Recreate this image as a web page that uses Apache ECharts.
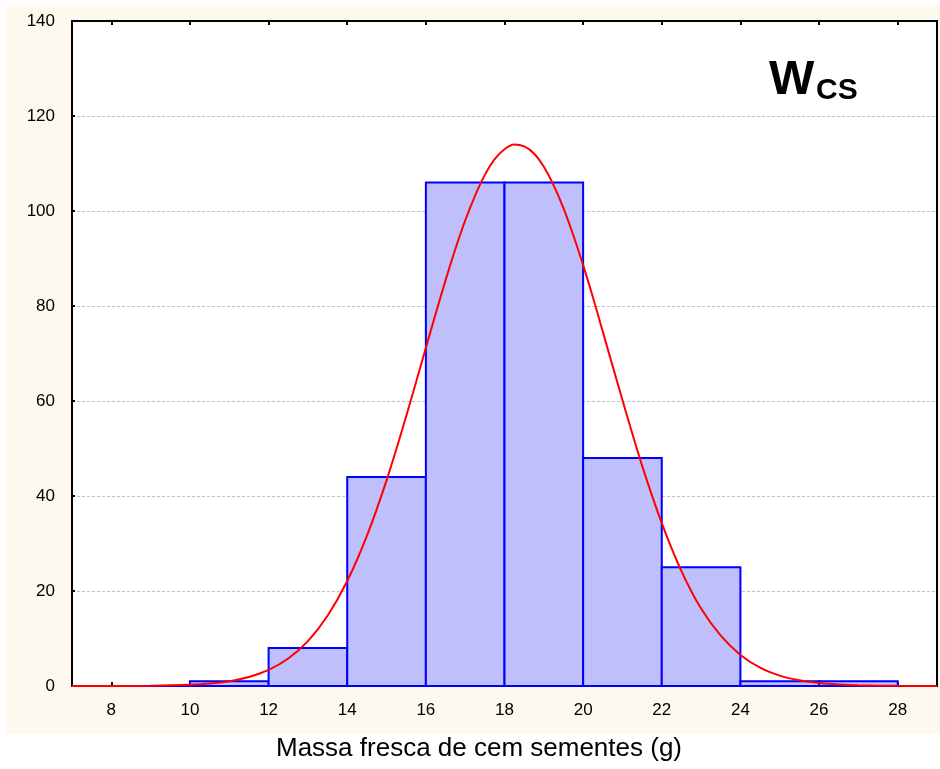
<!DOCTYPE html>
<html>
<head>
<meta charset="utf-8">
<script src="https://cdn.jsdelivr.net/npm/echarts@6/dist/echarts.min.js"></script>
<style>
  html, body { margin: 0; padding: 0; background: #ffffff; }
  #chart { width: 940px; height: 769px; }
</style>
</head>
<body>
<div id="chart"></div>
<script>
// Histogram class limits (g) and counts per class
const binStarts = [8, 10, 12, 14, 16, 18, 20, 22, 24, 26];
const binWidth = 2;
const counts = [0, 1, 8, 44, 106, 106, 48, 25, 1, 1];

// Fitted normal curve, expected counts per class
const curveX = [7, 8, 9, 10, 10.5, 11, 11.5, 12, 12.5, 13, 13.5, 14, 14.5, 15, 15.5, 16, 16.25, 16.5, 16.75, 17, 17.25, 17.5, 17.75, 18,
                18.25, 18.5, 18.75, 19, 19.25, 19.5, 19.75, 20, 20.25, 20.5, 21, 21.5, 22, 22.5, 23, 23.5, 24, 24.5, 25, 25.5, 26, 26.5, 27, 28, 29];
const curveY = [0.00, 0.01, 0.05, 0.26, 0.52, 1.02, 1.90, 3.39, 5.79, 9.46, 14.8, 22.1, 31.6, 43.3, 56.8, 71.2, 78.4, 85.4, 92.0, 98.0, 103.2, 107.6, 110.9, 113.0,
                114.0, 113.6, 112.1, 109.3, 105.4, 100.6, 94.9, 88.6, 81.8, 74.6, 60.2, 46.4, 34.3, 24.2, 16.3, 10.6, 6.54, 3.87, 2.19, 1.19, 0.62, 0.31, 0.15, 0.03, 0.00];

// Axis tick labels
const xTicks = [8, 10, 12, 14, 16, 18, 20, 22, 24, 26, 28];

const xAxisTitle = 'Massa fresca de cem sementes (g)';

const binData = binStarts.map((s, i) => [s, s + binWidth, counts[i]]);
const curveData = curveX.map((x, i) => [x, curveY[i]]);

const chart = echarts.init(document.getElementById('chart'), null, { renderer: 'canvas' });

const FONT = '"Liberation Sans", Arial, Helvetica, sans-serif';

chart.setOption({
  backgroundColor: '#ffffff',
  animation: false,
  graphic: [
    {
      type: 'rect', z: -10, silent: true,
      shape: { x: 6, y: 5, width: 934, height: 729 },
      style: { fill: '#fdf9ef' }
    },
    {
      type: 'rect', z: -5, silent: true,
      shape: { x: 72, y: 21, width: 865, height: 665 },
      style: { fill: '#ffffff' }
    },
    {
      type: 'text', z: 10,
      left: 769, top: 57,
      style: { text: 'W', font: 'bold 48px ' + FONT, fill: '#000000' }
    },
    {
      type: 'text', z: 10,
      left: 816, top: 76,
      style: { text: 'CS', font: 'bold 30px ' + FONT, fill: '#000000' }
    },
    {
      type: 'text', z: 10,
      style: {
        text: xAxisTitle, x: 479, y: 749,
        font: '26px ' + FONT, fill: '#000000',
        align: 'center', verticalAlign: 'middle'
      }
    }
  ],
  grid: { left: 72, top: 21, right: 3, bottom: 83, containLabel: false },
  xAxis: [
    {
      type: 'value', min: 7, max: 29, position: 'bottom',
      axisLine: { show: true, onZero: false, lineStyle: { color: '#000000', width: 2 } },
      axisTick: { show: true, inside: true, length: 4, customValues: xTicks, lineStyle: { color: '#000000', width: 2 } },
      axisLabel: { customValues: xTicks, margin: 16, fontFamily: FONT, fontSize: 17, color: '#000000' },
      splitLine: { show: false }
    },
    {
      type: 'value', min: 7, max: 29, position: 'top',
      axisLine: { show: true, onZero: false, lineStyle: { color: '#000000', width: 2 } },
      axisTick: { show: true, inside: true, length: 4, customValues: xTicks, lineStyle: { color: '#000000', width: 2 } },
      axisLabel: { show: false },
      splitLine: { show: false }
    }
  ],
  yAxis: [
    {
      type: 'value', min: 0, max: 140, interval: 20, position: 'left',
      axisLine: { show: true, onZero: false, lineStyle: { color: '#000000', width: 2 } },
      axisTick: { show: true, inside: true, length: 3, lineStyle: { color: '#000000', width: 2 } },
      axisLabel: { margin: 17, fontFamily: FONT, fontSize: 17, color: '#000000' },
      splitLine: { show: true, lineStyle: { color: '#c0c0c0', width: 1, type: [3, 2] } }
    },
    {
      type: 'value', min: 0, max: 140, interval: 20, position: 'right',
      axisLine: { show: true, onZero: false, lineStyle: { color: '#000000', width: 2 } },
      axisTick: { show: false },
      axisLabel: { show: false },
      splitLine: { show: false }
    }
  ],
  series: [
    {
      type: 'custom',
      xAxisIndex: 0, yAxisIndex: 0,
      data: binData,
      encode: { x: [0, 1], y: 2 },
      z: 2,
      renderItem: function (params, api) {
        const p0 = api.coord([api.value(0), api.value(2)]);
        const p1 = api.coord([api.value(1), 0]);
        return {
          type: 'rect',
          shape: { x: p0[0], y: p0[1], width: p1[0] - p0[0], height: p1[1] - p0[1] },
          style: { fill: '#bfbffb', stroke: '#0000ff', lineWidth: 2 }
        };
      }
    },
    {
      type: 'line',
      xAxisIndex: 0, yAxisIndex: 0,
      data: curveData,
      smooth: 0.3,
      showSymbol: false,
      z: 3,
      lineStyle: { color: '#ff0000', width: 2 }
    }
  ]
});
</script>
</body>
</html>
